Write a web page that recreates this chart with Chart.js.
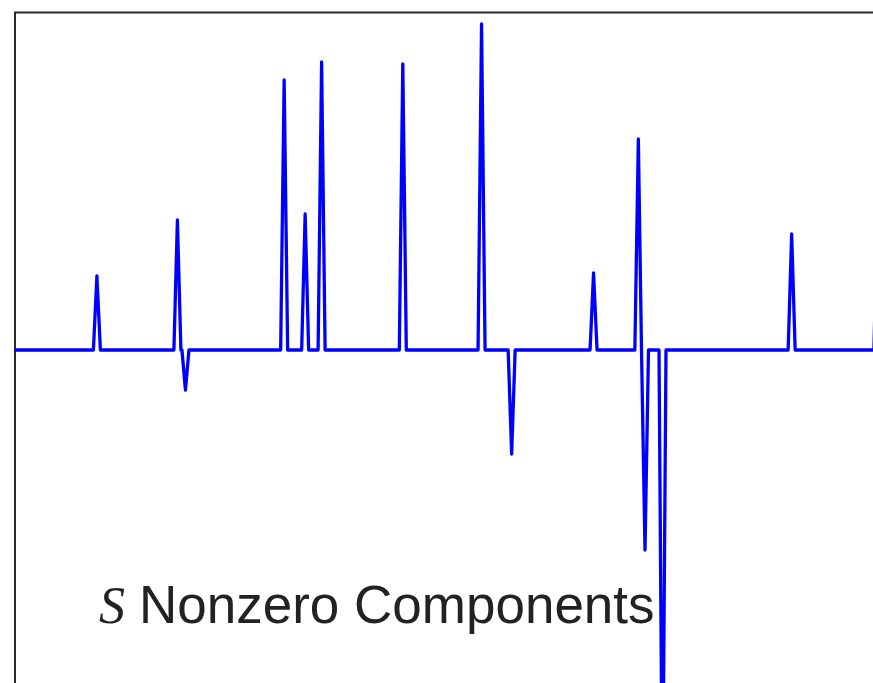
<!DOCTYPE html>
<html>
<head>
<meta charset="utf-8">
<script src="https://cdn.jsdelivr.net/npm/chart.js@4.4.1/dist/chart.umd.min.js"></script>
<style>
  html, body { margin: 0; padding: 0; background: #fff; overflow: hidden; }
  #sparse { position: absolute; left: 0; top: 0; }
</style>
</head>
<body>
<canvas id="sparse" width="930" height="870"></canvas>
<script>
// sample positions of the nonzero components and their amplitudes
const spikeIdx = [23.4, 46.4, 48.7, 76.9, 82.9, 87.6, 110.8, 133.3, 141.9, 165.3, 178.1, 180.0, 185.0, 221.9, 246.4];
const spikeAmp = [0.74, 1.30, -0.40, 2.70, 1.36, 2.88, 2.86, 3.26, -1.04, 0.77, 2.11, -2.00, -4.83, 1.16, 1.42];
const signalLength = 256;
const labelItalic = 'S';
const labelText = 'Nonzero Components';

// every other sample is zero: each spike sits between two zero samples
let points = [{ x: 0, y: 0 }, { x: signalLength, y: 0 }];
spikeIdx.forEach((n, i) => {
    points.push({ x: n - 1, y: 0 });
    points.push({ x: n, y: spikeAmp[i] });
    points.push({ x: n + 1, y: 0 });
});
points.sort((a, b) => a.x - b.x);

// axes box + caption
const boxPlugin = {
    id: 'boxPlugin',
    beforeDatasetsDraw(chart) {
        const a = chart.chartArea;
        const c = chart.ctx;
        c.save();
        c.strokeStyle = '#2a2a2a';
        c.lineWidth = 2;
        c.strokeRect(a.left, a.top, a.right - a.left, a.bottom - a.top);
        c.restore();
    },
    afterDraw(chart) {
        const c = chart.ctx;
        c.save();
        c.fillStyle = '#222';
        c.textBaseline = 'alphabetic';
        c.font = 'italic 52px "Liberation Serif", "Times New Roman", serif';
        c.fillText(labelItalic, 99, 623);
        c.font = '53px "Liberation Sans", Arial, sans-serif';
        c.fillText(labelText, 139, 623);
        c.restore();
    }
};

let ctx = document.getElementById('sparse').getContext('2d');

let sparseChart = new Chart(ctx, {
    type: 'line',
    data: {
        datasets: [{
            data: points,
            borderColor: '#0000ff',
            backgroundColor: 'transparent',
            borderWidth: 3.3,
            borderJoinStyle: 'round',
            borderCapStyle: 'round',
            pointRadius: 0,
            tension: 0,
            fill: false
        }]
    },
    options: {
        responsive: false,
        maintainAspectRatio: false,
        animation: false,
        layout: {
            padding: { left: 15, top: 12.5, right: 19, bottom: 20 }
        },
        scales: {
            x: { type: 'linear', min: 0, max: signalLength, display: false },
            y: { min: -5, max: 3.375, display: false }
        },
        plugins: {
            legend: { display: false },
            tooltip: { enabled: false }
        }
    },
    plugins: [boxPlugin]
});
</script>
</body>
</html>
